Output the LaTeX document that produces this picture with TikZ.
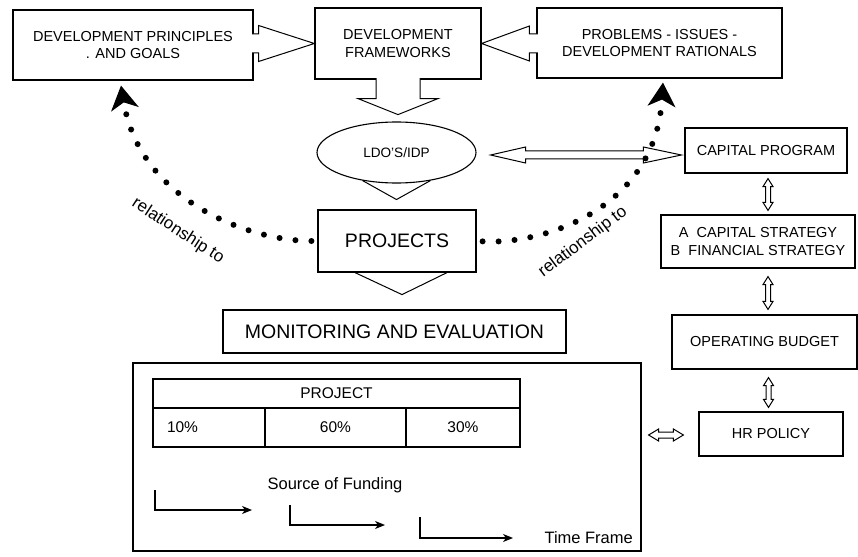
\documentclass[tikz,border=0pt]{standalone}
\usepackage{fontspec}
\setmainfont{Liberation Sans}
\usetikzlibrary{calc,shapes.geometric,arrows.meta}
\tikzset{
    box/.style={
        draw,
        line width=1.2pt,
        align=center,
        inner sep=0pt,
        font=\fontsize{14.5}{17.5}\selectfont
    },
    bigbox/.style={
        box,
        font=\fontsize{19.5}{23}\selectfont
    },
    cell/.style={
        draw,
        line width=1.1pt,
        inner sep=0pt,
        outer sep=0pt,
        font=\fontsize{15.5}{18}\selectfont
    },
    blockarrow/.style={
        draw,
        fill=white,
        line width=1pt,
        line join=miter
    },
    dotline/.style={
        line width=6pt,
        line cap=round,
        dash pattern=on 0pt off 16pt,
        shorten <=6pt,
        -{Stealth[length=24pt,width=28pt,inset=7pt,line width=1pt]}
    },
    rellabel/.style={
        font=\fontsize{17}{20}\selectfont
    },
    fundarrow/.style={
        line width=1.2pt,
        -{Stealth[length=10pt,width=8pt,inset=3pt]}
    },
    fundtext/.style={
        font=\fontsize{16.5}{19}\selectfont
    }
}
\begin{document}
\begin{tikzpicture}[x=1pt,y=-1pt]
    \useasboundingbox (0,0) rectangle (858,556);

    %% Top row
    \node (dpg) [box,minimum width=240pt,minimum height=70pt] at (133,45) {DEVELOPMENT PRINCIPLES\\. AND GOALS};
    \node (df) [box,minimum width=166pt,minimum height=71pt] at (398,43.5) {DEVELOPMENT\\FRAMEWORKS};
    \node (pdr) [box,minimum width=245pt,minimum height=70pt] at (659.5,43) {PROBLEMS - ISSUES -\\DEVELOPMENT RATIONALS};

    %% Middle column
    \node (ldo) [ellipse,draw,line width=1.1pt,inner sep=0pt,minimum width=159pt,minimum height=61pt,
        font=\fontsize{13.6}{16}\selectfont] at (396.5,152.5) {LDO'S/IDP};
    \node (proj) [bigbox,minimum width=158pt,minimum height=62pt] at (397,241) {PROJECTS};
    \node (me) [bigbox,minimum width=343pt,minimum height=43pt] at (394.5,331.5) {MONITORING AND EVALUATION};
    \node (mebox) [draw,line width=1.2pt,minimum width=508pt,minimum height=188pt] at (387,457) {};

    %% Table
    \node (tprj) [cell,minimum width=367pt,minimum height=29pt] at (336.5,393.5) {PROJECT};
    \node (t10) [cell,anchor=north west,minimum height=39pt,text width=84pt,inner xsep=14pt,align=left]
        at (tprj.south west) {10\%};
    \node (t60) [cell,anchor=north west,minimum width=141pt,minimum height=39pt] at (t10.north east) {60\%};
    \node (t30) [cell,anchor=north west,minimum width=114pt,minimum height=39pt] at (t60.north east) {30\%};

    %% Funding
    \node (sof) [fundtext] at (335,485) {Source of Funding};
    \coordinate (f1) at (155,490);
    \coordinate (f2) at (290,505);
    \coordinate (f3) at (420,517);
    \draw[fundarrow] (f1) -- ++(0,20) -- ++(97,0);
    \draw[fundarrow] (f2) -- ++(0,20) -- ++(95,0);
    \draw[fundarrow] (f3) -- ++(0,21) -- ++(93,0);
    \node (tf) [fundtext,anchor=west] at (541,538) {Time Frame};

    %% Right column
    \node (cp) [box,minimum width=162pt,minimum height=45pt] at (766,150.5) {CAPITAL PROGRAM};
    \node (cs) [box,minimum width=194pt,minimum height=53pt] at (758,241.5) {A\ \ CAPITAL STRATEGY\\B\ \ FINANCIAL STRATEGY};
    \node (ob) [box,minimum width=185pt,minimum height=54pt] at (764.5,342) {OPERATING BUDGET};
    \node (hr) [box,minimum width=144pt,minimum height=44pt] at (771,434) {HR POLICY};

    %% Block arrows into the frameworks
    \coordinate (a1) at (dpg.east |- df.west);
    \draw[blockarrow] ($(a1)+(-1.5,-9.5)$) -- ($(a1)+(5,-9.5)$) -- ($(a1)+(5,-18)$) -- (df.west)
        -- ($(a1)+(5,18)$) -- ($(a1)+(5,9.5)$) -- ($(a1)+(-1.5,9.5)$);
    \coordinate (a2) at (pdr.west |- df.east);
    \draw[blockarrow] ($(a2)+(1.5,-9.5)$) -- ($(a2)+(-7,-9.5)$) -- ($(a2)+(-7,-17.5)$) -- (df.east)
        -- ($(a2)+(-7,17.5)$) -- ($(a2)+(-7,9.5)$) -- ($(a2)+(1.5,9.5)$);
    \draw[blockarrow] ($(df.south)+(-22,-1.5)$) -- ($(df.south)+(-22,19)$) -- ($(df.south)+(-40,19)$)
        -- ($(df.south)+(0,35)$) -- ($(df.south)+(40,19)$) -- ($(df.south)+(22,19)$) -- ($(df.south)+(22,-1.5)$);
    \draw[line width=1pt] ($(ldo.south)+(-34,-3)$) -- ($(ldo.south)+(0,16)$) -- ($(ldo.south)+(34,-3)$);
    \draw[line width=1pt] ($(proj.south)+(-42,0)$) -- ($(proj.south)+(5,22)$) -- ($(proj.south)+(50,0)$);

    %% Double arrows
    \coordinate (d1) at ($(ldo.east)+(14,2.5)$);
    \coordinate (d2) at ($(cp.west |- d1)+(-3,0)$);
    \draw[blockarrow] (d1) -- ($(d1)+(35,-8)$) -- ($(d1)+(35,-4)$) -- ($(d2)+(-38,-4)$) -- ($(d2)+(-38,-8)$)
        -- (d2) -- ($(d2)+(-38,8)$) -- ($(d2)+(-38,4)$) -- ($(d1)+(35,4)$) -- ($(d1)+(35,8)$) -- cycle;

    \coordinate (v1a) at ($(cp.south)+(2,5)$);
    \coordinate (v1b) at ($(v1a |- cs.north)+(0,-4)$);
    \draw[blockarrow] (v1a) -- ($(v1a)+(5,8)$) -- ($(v1a)+(2.5,8)$) -- ($(v1b)+(2.5,-8)$) -- ($(v1b)+(5,-8)$)
        -- (v1b) -- ($(v1b)+(-5,-8)$) -- ($(v1b)+(-2.5,-8)$) -- ($(v1a)+(-2.5,8)$) -- ($(v1a)+(-5,8)$) -- cycle;
    \coordinate (v2a) at ($(cs.south)+(10,8)$);
    \coordinate (v2b) at ($(v2a |- ob.north)+(0,-5)$);
    \draw[blockarrow] (v2a) -- ($(v2a)+(5,8)$) -- ($(v2a)+(2.5,8)$) -- ($(v2b)+(2.5,-8)$) -- ($(v2b)+(5,-8)$)
        -- (v2b) -- ($(v2b)+(-5,-8)$) -- ($(v2b)+(-2.5,-8)$) -- ($(v2a)+(-2.5,8)$) -- ($(v2a)+(-5,8)$) -- cycle;
    \coordinate (v3a) at ($(ob.south)+(4,8)$);
    \coordinate (v3b) at ($(v3a |- hr.north)+(0,-4)$);
    \draw[blockarrow] (v3a) -- ($(v3a)+(5,8)$) -- ($(v3a)+(2.5,8)$) -- ($(v3b)+(2.5,-8)$) -- ($(v3b)+(5,-8)$)
        -- (v3b) -- ($(v3b)+(-5,-8)$) -- ($(v3b)+(-2.5,-8)$) -- ($(v3a)+(-2.5,8)$) -- ($(v3a)+(-5,8)$) -- cycle;

    \coordinate (h1) at ($(mebox.east |- hr.west)+(7,1)$);
    \coordinate (h2) at ($(hr.west)+(-15,1)$);
    \draw[blockarrow] (h1) -- ($(h1)+(10,-6)$) -- ($(h1)+(10,-3)$) -- ($(h2)+(-10,-3)$) -- ($(h2)+(-10,-6)$)
        -- (h2) -- ($(h2)+(-10,6)$) -- ($(h2)+(-10,3)$) -- ($(h1)+(10,3)$) -- ($(h1)+(10,6)$) -- cycle;

    %% Relationship curves
    \coordinate (rl) at ($(dpg.south)+(-12,5)$);
    \coordinate (rr) at ($(pdr.south)+(3.5,4)$);
    \draw[dotline] (proj.west) .. controls +(-68,0) and +(19,115) .. (rl);
    \draw[dotline] (proj.east) .. controls +(64,4) and +(-8,128) .. (rr);
    \node (rel1) [rellabel,rotate=-33] at (178,231) {relationship to};
    \node (rel2) [rellabel,rotate=37] at (583,242) {relationship to};

\end{tikzpicture}
\end{document}
